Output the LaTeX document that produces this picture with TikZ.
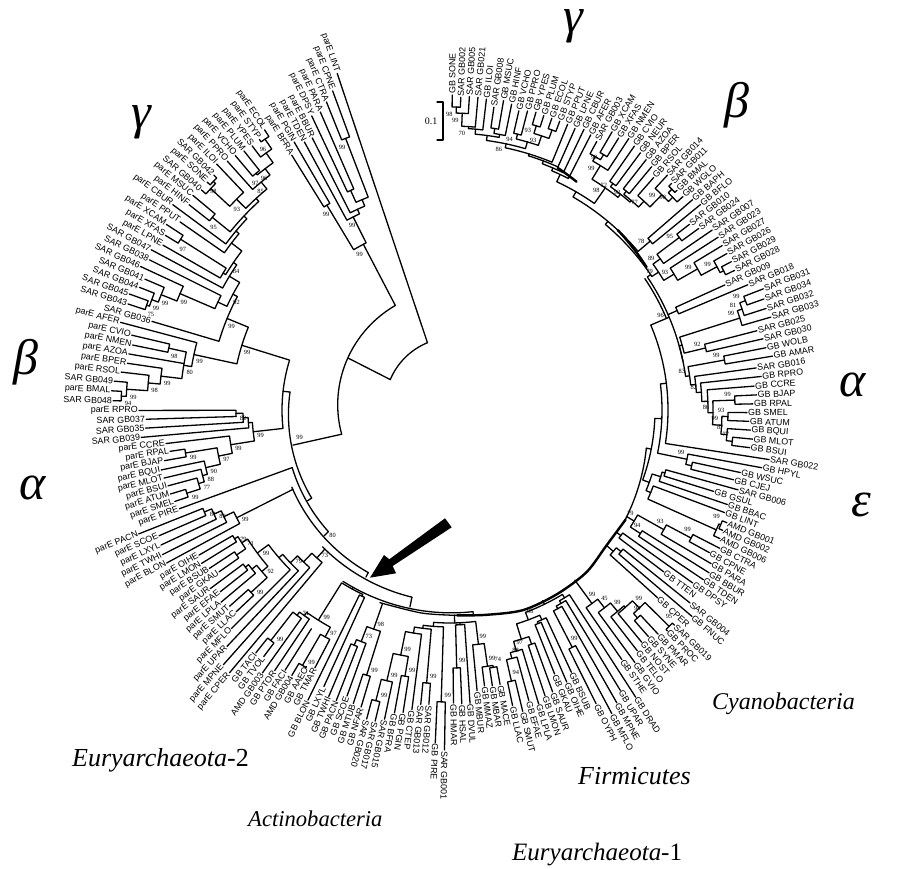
\documentclass[tikz,border=0pt]{standalone}
\usepackage{fontspec}
\setmainfont{Liberation Serif}
\newfontfamily\labf{Liberation Sans}
\tikzset{
 br/.style={line width=1.3pt,line cap=round,line join=round},
 brk/.style={line width=2.4pt,line cap=round,line join=round},
 leaflab/.style={font=\labf\fontsize{8.9}{8.9}\selectfont,inner sep=1pt},
 suplab/.style={font=\fontsize{6.4}{6.4}\selectfont,inner sep=0pt},
 greek/.style={font=\itshape\fontsize{50}{50}\selectfont,inner sep=0pt},
 cladelab/.style={inner sep=0pt,anchor=west},
}
\newcommand\setn[3]{\expandafter\xdef\csname TH#1\endcsname{#2}\expandafter\xdef\csname RR#1\endcsname{#3}}
\newcommand\setang[2]{\xdef\curth{#1}\xdef\curstep{#2}}
\newcommand\setstep[1]{\xdef\curstep{#1}}
\newcommand\sett[2]{\expandafter\xdef\csname TH#1\endcsname{#2}}
\newcommand\leafn[3]{%
 \setn{#1}{\curth}{#2}%
 \coordinate (#1) at (\curth:#2pt);
 \ifdim\curth pt>90pt \node[leaflab,rotate=\curth+180,anchor=east] (l-#1) at (#1) {#3};%
 \else\ifdim\curth pt<-105.5pt \node[leaflab,rotate=\curth+180,anchor=east] (l-#1) at (#1) {#3};%
 \else \node[leaflab,rotate=\curth,anchor=west] (l-#1) at (#1) {#3};\fi\fi
 \pgfmathsetmacro\nxt{\curth-\curstep}\xdef\curth{\nxt}}
\newcommand\clade[5]{%
 \edef\ta{\csname TH#2\endcsname}\edef\tb{\csname TH#3\endcsname}%
 \edef\ra{\csname RR#2\endcsname}\edef\rb{\csname RR#3\endcsname}%
 \pgfmathsetmacro\tm{(\ta+\tb)/2}%
 \draw[br] (\ta:\ra pt) -- (\ta:#4pt) arc[start angle=\ta,end angle=\tb,radius=#4pt] -- (\tb:\rb pt);
 \setn{#1}{\tm}{#4}%
 \coordinate (#1) at (\tm:#4pt);
 \if\relax\detokenize{#5}\relax\else
 \pgfmathsetmacro\sa{\tm+1.3}\pgfmathsetmacro\sr{#4-7}%
 \node[suplab] (s-#1) at (\sa:\sr pt) {#5};\fi}
\newcommand\attn[2]{%
 \edef\ta{\csname TH#1\endcsname}\edef\ra{\csname RR#1\endcsname}%
 \coordinate (#1-f) at (\ta:#2pt);
 \draw[br] (#1) -- (#1-f);}
\newcommand\radl[3]{\draw[br] (#1:#2pt) -- (#1:#3pt);}
\newcommand\varc[5][br]{\draw[#1] plot[domain=#2:#4,samples=40,variable=\vx] (\vx:{#3+(#5-#3)*(\vx-#2)/(#4-#2)});}
\begin{document}
\begin{tikzpicture}[x=1pt,y=1pt]
\useasboundingbox (0,-869) rectangle (900,0);
\begin{scope}[shift={(450,-410)}]
% ---- right tree leaves
\setang{89.6}{1.57}
\leafn{SONE}{315}{GB SONE}\leafn{S002}{313}{SAR GB002}\leafn{S005}{314}{SAR GB005}\leafn{S021}{314}{SAR GB021}
\leafn{ILOI}{313}{GB ILOI}\leafn{S008}{306}{SAR GB008}\leafn{MSUC}{314}{GB MSUC}\leafn{HINF}{312}{GB HINF}
\leafn{VCHO}{307}{GB VCHO}\leafn{PPRO}{309}{GB PPRO}\leafn{YPES}{310}{GB YPES}\leafn{PLUM}{309}{GB PLUM}
\leafn{ECOL}{309}{GB ECOL}\leafn{STYP}{309}{GB STYP}\leafn{PPUT}{309}{GB PPUT}\leafn{LPNE}{308}{GB LPNE}
\leafn{CBUR}{311}{GB CBUR}\leafn{AFER}{309}{GB AFER}\leafn{S003}{306}{SAR GB003}\leafn{XCAM}{322}{GB XCAM}
\leafn{XFAS}{320}{GB XFAS}\leafn{NMEN}{325}{GB NMEN}\leafn{CVIO}{322}{GB CVIO}\leafn{NEUR}{320}{GB NEUR}
\leafn{AZOA}{318}{GB AZOA}\leafn{BPER}{316}{GB BPER}\leafn{RSOL}{309}{GB RSOL}\leafn{S014}{320}{SAR GB014}
\leafn{S011}{317}{SAR GB011}\leafn{BMAL}{316}{GB BMAL}\leafn{WGLO}{316}{GB WGLO}\leafn{BAPH}{321}{GB BAPH}
\leafn{BFLO}{324}{GB BFLO}
\setstep{1.665}
\leafn{S010}{303}{SAR GB010}\leafn{S024}{308}{SAR GB024}\leafn{S007}{318}{SAR GB007}\leafn{S023}{319}{SAR GB023}
\leafn{S027}{318}{SAR GB027}\leafn{S026}{318}{SAR GB026}\leafn{S029}{318}{SAR GB029}\leafn{S028}{317}{SAR GB028}
\leafn{S009}{302}{SAR GB009}\leafn{S018}{323}{SAR GB018}\leafn{S031}{336}{SAR GB031}\leafn{S034}{333}{SAR GB034}
\leafn{S032}{332}{SAR GB032}\leafn{S033}{334}{SAR GB033}\leafn{S025}{317}{SAR GB025}\leafn{S030}{321}{SAR GB030}
\leafn{WOLB}{322}{GB WOLB}\leafn{AMAR}{327}{GB AMAR}\leafn{S016}{309}{SAR GB016}\leafn{RPRO}{313}{GB RPRO}
\leafn{CCRE}{305}{GB CCRE}\leafn{BJAP}{307}{GB BJAP}\leafn{RPAL}{303}{GB RPAL}\leafn{SMEL}{297}{GB SMEL}
\leafn{ATUM}{299}{GB ATUM}\leafn{BQUI}{301}{GB BQUI}\leafn{MLOT}{304}{GB MLOT}\leafn{BSUI}{302}{GB BSUI}
\leafn{S022}{323}{SAR GB022}\leafn{HPYL}{317}{GB HPYL}\leafn{WSUC}{297}{GB WSUC}\leafn{CJEJ}{292}{GB CJEJ}
\leafn{S006}{299}{SAR GB006}\leafn{GSUL}{276}{GB GSUL}\leafn{BBAC}{293}{GB BBAC}\leafn{LINT}{293}{GB LINT}
\leafn{A001}{299}{AMD GB001}\leafn{A002}{298}{AMD GB002}\leafn{A006}{299}{AMD GB006}\leafn{CTRA}{303}{GB CTRA}
\leafn{CPNE}{296}{GB CPNE}\leafn{PARA}{303}{GB PARA}\leafn{BBUR}{306}{GB BBUR}\leafn{TDEN}{305}{GB TDEN}
\leafn{DPSY}{298}{GB DPSY}\leafn{TTEN}{268}{GB TTEN}\leafn{S004}{308}{SAR GB004}\leafn{FNUC}{318}{GB FNUC}
\leafn{CPER}{280}{GB CPER}\leafn{S019}{311}{SAR GB019}\leafn{PROC}{310}{GB PROC}\leafn{PMAR}{306}{GB PMAR}
\leafn{SYNE}{301}{GB SYNE}\leafn{NOST}{301}{GB NOST}\leafn{TELO}{305}{GB TELO}\leafn{GVIO}{313}{GB GVIO}
\leafn{STHE}{303}{GB STHE}
\setstep{1.61}
\leafn{DRAD}{342}{GB DRAD}\leafn{UPAR}{328}{GB UPAR}\leafn{MPNE}{337}{GB MPNE}\leafn{MFLO}{344}{GB MFLO}
\leafn{OYPH}{328}{GB OYPH}\leafn{BSUB}{289}{GB BSUB}\leafn{OIHE}{296}{GB OIHE}\leafn{GKAU}{284}{GB GKAU}
\leafn{SAUR}{300}{GB SAUR}\leafn{LMON}{301}{GB LMON}\leafn{LPLA}{307}{GB LPLA}\leafn{EFAE}{301}{GB EFAE}
\leafn{SMUT}{310}{GB SMUT}\leafn{LLAC}{302}{GB LLAC}\leafn{MACE}{279}{GB MACE}\leafn{MBAR}{279}{GB MBAR}
\leafn{MMAZ}{278}{GB MMAZ}\leafn{MBUR}{282}{GB MBUR}\leafn{DVUL}{294}{GB DVUL}\leafn{HSAL}{294}{GB HSAL}
\leafn{HMAR}{293}{GB HMAR}\leafn{S001}{340}{SAR GB001}
\setstep{1.57}
\leafn{PIRE}{333}{GB PIRE}\leafn{S012}{295}{SAR GB012}\leafn{S013}{296}{SAR GB013}\leafn{CTEP}{302}{GB CTEP}
\leafn{PGIN}{306}{GB PGIN}\leafn{BFRA}{308}{GB BFRA}\leafn{S015}{316}{SAR GB015}\leafn{S017}{320}{SAR GB017}
\leafn{S020}{320}{SAR GB020}\leafn{NFAR}{310}{GB NFAR}\leafn{MTUB}{309}{GB MTUB}\leafn{SCOE}{304}{GB SCOE}
\leafn{PACN}{312}{GB PACN}\leafn{TWHI}{311}{GB TWHI}\leafn{LXYL}{304}{GB LXYL}\leafn{BLON}{323}{GB BLON}
\leafn{TMAR}{291}{GB TMAR}\leafn{AAEO}{294}{GB AAEO}\leafn{A004}{309}{AMD GB004}\leafn{FACI}{308}{GB FACI}
\leafn{PTOR}{314}{GB PTOR}\leafn{A003}{323}{AMD GB003}\leafn{TVOL}{309}{GB TVOL}\leafn{TACI}{311}{GB TACI}
% ---- right tree clades
\clade{t1}{SONE}{S002}{303}{98}\clade{t2}{t1}{S005}{297}{99}\clade{t3}{t2}{S021}{284}{70}\clade{t4}{t3}{ILOI}{282}{}
\clade{t5}{S008}{MSUC}{285}{}\clade{t6}{t5}{HINF}{280}{}\clade{t7}{t4}{t6}{277}{}
\clade{t8}{VCHO}{PPRO}{284}{94}\clade{t9}{YPES}{PLUM}{297}{93}\clade{t10}{ECOL}{STYP}{298}{}
\clade{t11}{t9}{t10}{289}{93}\clade{t12}{t8}{t11}{279}{}\clade{g1}{t7}{t12}{272}{86}
\clade{g2}{g1}{PPUT}{268}{}\clade{g3}{g2}{LPNE}{266}{}\clade{g4}{g3}{CBUR}{263}{}\clade{g5}{g4}{AFER}{260}{}
\clade{x1}{XCAM}{XFAS}{298}{99}\clade{x2}{S003}{x1}{292}{}\clade{x3}{x2}{NMEN}{287}{99}
\clade{cn}{CVIO}{NEUR}{279}{72}\clade{b4}{AZOA}{BPER}{281}{92}
\clade{b0}{S011}{BMAL}{313}{}\clade{b1}{b0}{WGLO}{308}{98}\clade{b2}{S014}{b1}{302}{99}\clade{b3}{RSOL}{b2}{285}{77}
\clade{b5}{b4}{b3}{277}{}\clade{b6}{cn}{b5}{275}{}\clade{b8}{x3}{b6}{271}{98}\clade{g6}{g5}{b8}{252}{}
\clade{c8}{BAPH}{BFLO}{262}{78}\clade{c5}{S010}{S024}{287}{95}\clade{c6}{c5}{S007}{259}{89}
\clade{c1}{S029}{S028}{307}{}\clade{c2}{S026}{c1}{303}{99}\clade{c3}{S027}{c2}{285}{99}\clade{c4}{S023}{c3}{262}{93}
\clade{c7}{c6}{c4}{250}{79}\clade{h1}{g6}{c8}{246}{}\clade{h2}{h1}{c7}{242}{}\sett{h2}{34}
\coordinate (h2) at (34:242pt);
\clade{d1}{S009}{S018}{248}{}
\clade{d2}{S031}{S034}{315}{99}\clade{d3}{d2}{S032}{309}{81}\clade{d4}{d3}{S033}{304}{99}
\clade{e1}{S025}{S030}{263}{92}\clade{e2}{d4}{e1}{241}{}\clade{e3}{WOLB}{AMAR}{279}{99}
\clade{f1}{BJAP}{RPAL}{285}{99}\clade{f2}{SMEL}{ATUM}{278}{93}\clade{f3}{MLOT}{BSUI}{284}{77}\clade{f4}{BQUI}{f3}{278}{87}
\clade{f5}{f2}{f4}{272}{99}\clade{f6}{f1}{f5}{263}{86}\clade{f7}{CCRE}{f6}{258}{}\clade{f8}{RPRO}{f7}{252}{82}
\clade{f9}{S016}{f8}{247}{}\clade{f10}{e3}{f9}{242}{83}\clade{f11}{e2}{f10}{238}{}
\clade{h3}{h2}{f11}{238}{96}\attn{d1}{238}
\varc{34}{235}{23}{235}
\clade{k1}{h3}{S022}{218}{}
\clade{n1}{WSUC}{CJEJ}{248}{}\clade{n2}{HPYL}{n1}{242}{99}
\clade{m1}{k1}{n2}{212}{}
\clade{p1}{S006}{GSUL}{224}{}\clade{p2}{p1}{BBAC}{221}{}
\clade{q1}{A001}{A002}{294}{99}\clade{q2}{q1}{A006}{292}{}\clade{q3}{LINT}{q2}{217}{}\clade{q4}{p2}{q3}{212}{}
\clade{m2}{m1}{q4}{205}{}
\radl{-11}{205}{200}
\varc{-11}{200}{-33}{207}
\clade{s1}{CTRA}{CPNE}{273}{99}\clade{s2}{s1}{PARA}{245}{93}\clade{s3}{BBUR}{TDEN}{227}{94}\clade{s4}{s2}{s3}{215}{79}\attn{s4}{206}
\clade{y0}{DPSY}{TTEN}{212}{}\attn{y0}{207}
\clade{y2}{S004}{FNUC}{222}{}\clade{y3}{y2}{CPER}{216}{}\attn{y3}{207}
\clade{uA}{S019}{PROC}{308}{95}\clade{uB}{PMAR}{SYNE}{280}{94}\clade{uC}{uB}{uA}{274}{99}\clade{uD}{NOST}{uC}{264}{}
\clade{uE}{TELO}{uD}{262}{99}\clade{uF}{GVIO}{uE}{251}{45}\clade{uG}{STHE}{uF}{240}{99}\attn{uG}{211}
\clade{v1}{MFLO}{OYPH}{267}{99}\clade{v2}{MPNE}{v1}{226}{}\clade{v3}{UPAR}{v2}{223}{}\clade{v4}{DRAD}{v3}{220}{}
\clade{w1}{OIHE}{GKAU}{231}{}\clade{w2}{BSUB}{w1}{229}{}\clade{w3}{SAUR}{LMON}{248}{}
\clade{w4}{SMUT}{LLAC}{278}{94}\clade{w5}{EFAE}{w4}{256}{88}\clade{w6}{LPLA}{w5}{250}{97}\clade{w7}{w3}{w6}{240}{}
\clade{w8}{w2}{w7}{224}{98}\clade{y1}{v4}{w8}{216}{}\attn{y1}{212}
\clade{z1}{MBAR}{MACE}{261}{74}\clade{z2}{MMAZ}{z1}{259}{99}\clade{z3}{MBUR}{z2}{236}{99}
\clade{z4}{HMAR}{HSAL}{258}{99}\clade{z5}{z4}{DVUL}{215}{}
\clade{o1}{S001}{PIRE}{292}{99}
\clade{dd1}{S017}{S020}{300}{99}\clade{dd2}{S015}{dd1}{278}{99}\clade{dd3}{PGIN}{BFRA}{270}{99}\clade{dd4}{dd3}{dd2}{250}{99}
\clade{dd6}{CTEP}{dd4}{226}{}\clade{dd7}{S012}{S013}{274}{99}\clade{dd8}{dd7}{dd6}{220}{}\clade{dd9}{o1}{dd8}{217}{}
\clade{dd10}{dd9}{z3}{213}{}\attn{z5}{213}\attn{dd10}{205}
\clade{cc1}{NFAR}{MTUB}{278}{99}\clade{cc3}{PACN}{TWHI}{254}{}\clade{cc4}{SCOE}{cc3}{248}{73}\clade{cc5}{cc1}{cc4}{232}{98}\attn{cc5}{205}
\clade{cc7}{LXYL}{BLON}{206}{}
\clade{tt1}{AAEO}{A004}{295}{99}\clade{tt2}{TMAR}{tt1}{259}{97}\attn{FACI}{259}
\clade{tt3}{TVOL}{TACI}{292}{99}\clade{tt4}{A003}{tt3}{256}{71}\clade{tt5}{PTOR}{tt4}{252}{}\clade{tt6}{tt2}{tt5}{248}{99}
\clade{cc8}{tt6}{cc7}{204}{}\attn{cc8}{202}
% ---- left tree leaves
\setang{230}{1.664}
\leafn{LCPER}{343}{parE CPER}\leafn{LMPNE}{341}{parE MPNE}\leafn{LUPAR}{325}{parE UPAR}\leafn{LMFLO}{309}{parE MFLO}
\leafn{LLLAC}{294}{parE LLAC}\leafn{LSMUT}{295}{parE SMUT}\leafn{LLPLA}{299}{parE LPLA}\leafn{LEFAE}{293}{parE EFAE}
\leafn{LSAUR}{299}{parE SAUR}\leafn{LGKAU}{282}{parE GKAU}\leafn{LBSUB}{288}{parE BSUB}\leafn{LLMON}{292}{parE LMON}
\leafn{LOIHE}{290}{parE OIHE}\leafn{LBLON}{322}{parE BLON}\leafn{LTWHI}{322}{parE TWHI}\leafn{LLXYL}{319}{parE LXYL}
\leafn{LSCOE}{317}{parE SCOE}\leafn{LPACN}{335}{parE PACN}\leafn{LPIRE}{288}{parE PIRE}\leafn{LSMEL}{290}{parE SMEL}
\leafn{LATUM}{292}{parE ATUM}\leafn{LBSUI}{292}{parE BSUI}\leafn{LMLOT}{294}{parE MLOT}\leafn{LBQUI}{295}{parE BQUI}
\leafn{LBJAP}{290}{parE BJAP}\leafn{LRPAL}{283}{parE RPAL}\leafn{LCCRE}{286}{parE CCRE}\leafn{L039}{310}{SAR GB039}
\leafn{L035}{305}{SAR GB035}\leafn{L037}{304}{SAR GB037}\leafn{LRPRO}{311}{parE RPRO}\leafn{L048}{337}{SAR GB048}
\leafn{LBMAL}{339}{parE BMAL}\leafn{L049}{337}{SAR GB049}\leafn{LRSOL}{331}{parE RSOL}\leafn{LBPER}{326}{parE BPER}
\leafn{LAZOA}{326}{parE AZOA}\leafn{LNMEN}{324}{parE NMEN}\leafn{LCVIO}{327}{parE CVIO}\leafn{LAFER}{341}{parE AFER}
\leafn{L036}{311}{SAR GB036}\leafn{L043}{339}{SAR GB043}\leafn{L045}{341}{SAR GB045}\leafn{L044}{334}{SAR GB044}
\leafn{L041}{332}{SAR GB041}\leafn{L046}{341}{SAR GB046}\leafn{L038}{336}{SAR GB038}\leafn{L047}{339}{SAR GB047}
\leafn{LLPNE}{331}{parE LPNE}\leafn{LXFAS}{334}{parE XFAS}\leafn{LXCAM}{339}{parE XCAM}\leafn{LPPUT}{329}{parE PPUT}
\leafn{LCBUR}{345}{parE CBUR}\leafn{LHINF}{332}{parE HINF}\leafn{LMSUC}{335}{parE MSUC}\leafn{L040}{332}{SAR GB040}
\leafn{LSONE}{333}{parE SONE}\leafn{L042}{333}{SAR GB042}\leafn{LILOI}{339}{parE ILOI}\leafn{LPPRO}{334}{parE PPRO}
\leafn{LVCHO}{333}{parE VCHO}\leafn{LPLUM}{331}{parE PLUM}\leafn{LYPES}{330}{parE YPES}\leafn{LSTYP}{331}{parE STYP}
\leafn{LECOL}{336}{parE ECOL}\leafn{LBFRA}{300}{parE BFRA}\leafn{LPGIN}{310}{parE PGIN}\leafn{LTDEN}{305}{parE TDEN}
\leafn{LBBUR}{305}{parE BBUR}\leafn{LDPSY}{325}{parE DPSY}\leafn{LPARA}{325}{parE PARA}\leafn{LCTRA}{332}{parE CTRA}
\leafn{LCPNE}{340}{parE CPNE}\leafn{LLINT}{355}{parE LINT}
% ---- left tree clades
\clade{la1}{LLLAC}{LSMUT}{270}{99}\clade{la2}{LEFAE}{LSAUR}{258}{}\clade{la3}{LLPLA}{la2}{254}{}\clade{la4}{la1}{la3}{248}{92}
\clade{la5}{LGKAU}{LBSUB}{258}{}\clade{la6}{LLMON}{LOIHE}{251}{79}\clade{la7}{la5}{la6}{247}{71}\clade{la8}{la4}{la7}{240}{99}
\clade{la9}{LMFLO}{la8}{226}{}\clade{la10}{LUPAR}{la9}{221}{79}\clade{la11}{LMPNE}{la10}{211}{}\clade{la12}{LCPER}{la11}{199}{73}\attn{la12}{187}
\clade{ac1}{LPACN}{LSCOE}{266}{81}\clade{ac2}{ac1}{LLXYL}{258}{89}\clade{ac3}{ac2}{LTWHI}{250}{}\clade{ac4}{ac3}{LBLON}{239}{99}\attn{ac4}{176}
\attn{LPIRE}{168}
\clade{am1}{LSMEL}{LATUM}{276}{99}\clade{am2}{am1}{LBSUI}{262}{77}\clade{am3}{am2}{LMLOT}{256}{88}\clade{am4}{am3}{LBQUI}{251}{90}
\clade{am5}{LBJAP}{LRPAL}{268}{99}\clade{am6}{am4}{am5}{236}{97}\clade{am7}{am6}{LCCRE}{222}{99}
\clade{ar1}{L037}{LRPRO}{214}{82}\clade{ar2}{L035}{ar1}{207}{}\clade{ar3}{L039}{ar2}{202}{}\clade{ar4}{am7}{ar3}{198}{99}
\clade{al1}{L048}{LBMAL}{329}{94}\clade{al2}{L049}{al1}{324}{99}\clade{al3}{LRSOL}{al2}{303}{98}\clade{al4}{LBPER}{al3}{291}{99}
\clade{al5}{LCVIO}{LNMEN}{288}{98}\clade{al6}{al5}{al4}{270}{80}\attn{LAZOA}{270}\clade{al7}{LAFER}{al6}{262}{99}
\clade{gm1}{L043}{L045}{321}{75}\clade{gm2}{gm1}{L044}{318}{99}\clade{gm3}{gm2}{L041}{311}{99}\clade{gm4}{gm3}{L046}{294}{99}\clade{gm5}{gm4}{L038}{256}{}
\clade{gg1}{LSTYP}{LECOL}{328}{96}\clade{gg2}{LYPES}{gg1}{316}{}\clade{gg3}{LVCHO}{LPLUM}{306}{97}\clade{gg4}{gg3}{gg2}{304}{96}\clade{gg5}{LPPRO}{gg4}{296}{85}
\clade{gg6}{LSONE}{L042}{329}{98}\clade{gg7}{L040}{gg6}{326}{}\clade{gg8}{gg7}{LILOI}{300}{93}\clade{gg9}{gg8}{gg5}{287}{}
\clade{hm}{LHINF}{LMSUC}{306}{95}\clade{gg10}{hm}{gg9}{283}{}\clade{gg11}{LCBUR}{gg10}{279}{}\clade{gg12}{LPPUT}{gg11}{275}{}
\clade{fx}{LXFAS}{LXCAM}{319}{97}\clade{fl}{LLPNE}{fx}{265}{}\clade{gg14}{fl}{gg12}{262}{84}\clade{gg15}{L047}{gg14}{258}{}
\clade{gg16}{gm5}{gg15}{246}{92}\clade{al8}{L036}{gg16}{241}{99}\clade{al9}{al7}{al8}{218}{99}
\clade{ra1}{LCTRA}{LCPNE}{291}{99}\clade{ra2}{LDPSY}{LPARA}{241}{}\clade{ra3}{ra2}{ra1}{228}{}\clade{ra4}{LBBUR}{ra3}{221}{}\clade{ra5}{LTDEN}{ra4}{216}{99}
\clade{pb}{LBFRA}{LPGIN}{239}{99}\clade{ra6}{pb}{ra5}{187}{99}
% ---- root and ring
\clade{Ra}{al9}{ar4}{168}{}
\radl{173.6}{168}{161}
\varc{173.6}{161}{212.5}{164}
\radl{212.5}{164}{169}
\varc{200}{168}{225}{172}
\radl{225}{172}{178}
\varc{206}{176}{243.3}{182}
\radl{243.3}{182}{187}
\varc{227}{187}{258.5}{191}
\radl{258.5}{191}{201}
\varc{238}{202}{276.5}{203}
\radl{276.5}{203}{206}
\draw[br] plot[smooth] coordinates {(250:205)(262:205)(272:205.5)};
\draw[brk] plot[smooth] coordinates {(272:205.5)(280:208)(290:213)(300:213)(310:212)(319:207)(328:207)};
\sett{ra6}{117.6}
\coordinate (ra6) at (117.6:187pt);
\attn{ra6}{118}
\varc{117.6}{118}{192.6}{111}
\radl{192.6}{111}{161}
\node[suplab] (s-root) at (190.5:153pt) {99};
\varc{108.5}{71}{153}{67}
\radl{153}{67}{114}
\attn{LLINT}{71}
\varc[brk]{47}{246}{36}{243}
\varc[brk]{66}{265}{61}{261}
\node[suplab] (s-r80) at (227:172pt) {80};
\end{scope}
% ---- arrow
\fill (445,-518.3) -- (451.7,-527.3) -- (392.7,-566) -- (396,-573.3) -- (370,-577.7) -- (384,-555) -- (389.3,-559.3) -- cycle;
% ---- scale bar
\coordinate (sb1) at (437,-102);\coordinate (sb2) at (443,-102);\coordinate (sb3) at (443,-140);\coordinate (sb4) at (437,-140);
\draw[br] (sb1) -- (sb2) -- (sb3) -- (sb4);
\node[font=\fontsize{10}{10}\selectfont,inner sep=0pt] (scale) at (431,-121) {0.1};
% ---- clade names
\node[greek] (g1) at (573,-26) {γ};
\node[greek] (g2) at (737,-105) {β};
\node[greek] (g3) at (853,-385) {α};
\node[greek] (g4) at (861,-505) {ε};
\node[greek] (g5) at (141,-122) {γ};
\node[greek] (g6) at (26,-362) {β};
\node[greek] (g7) at (33,-488) {α};
\node[cladelab,font=\fontsize{24}{24}\selectfont] (n1) at (712,-704) {\itshape Cyanobacteria};
\node[cladelab,font=\fontsize{26}{26}\selectfont] (n2) at (578,-776) {\itshape Firmicutes};
\node[cladelab,font=\fontsize{26}{26}\selectfont] (n3) at (72,-760) {\textit{Euryarchaeota}-2};
\node[cladelab,font=\fontsize{22.6}{22.6}\selectfont] (n4) at (248,-819) {\itshape Actinobacteria};
\node[cladelab,font=\fontsize{25}{25}\selectfont] (n5) at (512,-855) {\textit{Euryarchaeota}-1};
\end{tikzpicture}
\end{document}
